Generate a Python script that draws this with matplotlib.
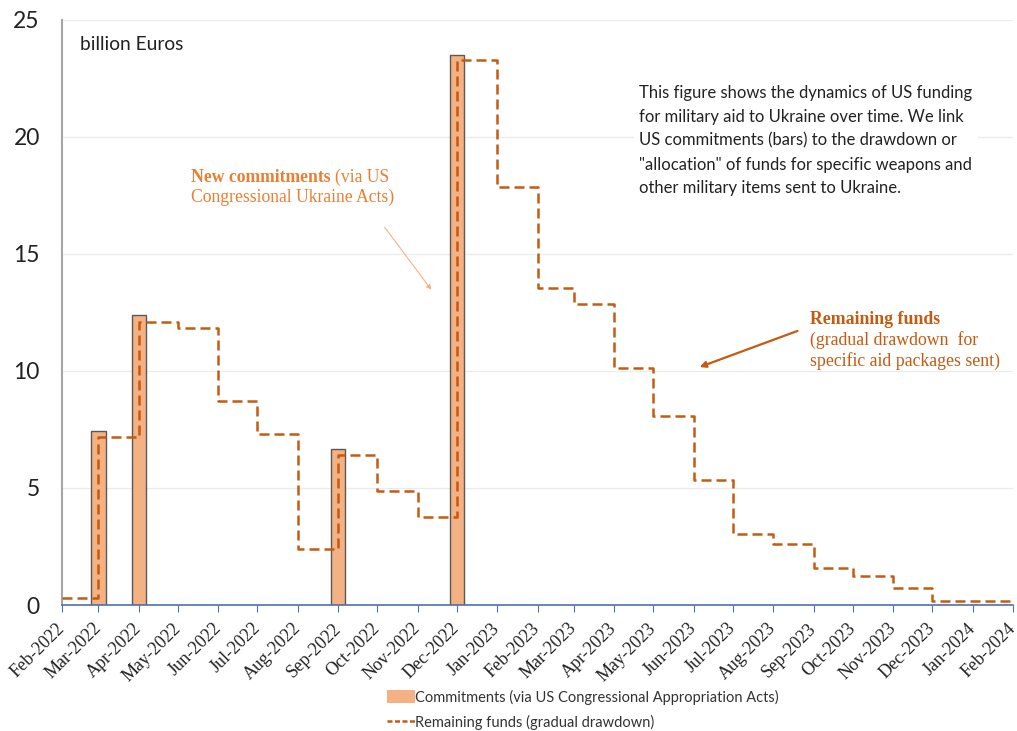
import pandas as pd
import matplotlib
matplotlib.use("Agg")
import matplotlib.pyplot as plt
import matplotlib.dates as mdates
from matplotlib.patches import Patch
from matplotlib.lines import Line2D

# -------------------------------
# Data (billion Euros)
# -------------------------------
months = pd.date_range("2022-02-01", "2024-02-01", freq="MS")
remaining = [0.31, 7.16, 12.08, 11.85, 8.71, 7.30, 2.38, 6.40, 4.87, 3.75,
             23.29, 17.88, 13.54, 12.87, 10.14, 8.08, 5.35, 3.03, 2.60, 1.59,
             1.25, 0.73, 0.16, 0.16, 0.16]
commit_dates = pd.to_datetime(["2022-03-01", "2022-04-01", "2022-09-01", "2022-12-01"])
commitments = [7.43, 12.39, 6.67, 23.52]

bar_color = "#F4B183"
line_color = "#C55A11"
note_color = "#ED7D31"

W, H = 1017, 731


def fp(x, y):
    # figure pixel (from top-left) -> figure fraction
    return (x / W, 1 - y / H)


fig = plt.figure(figsize=(W / 100, H / 100), dpi=100)
ax = fig.add_axes([62 / W, 1 - 605 / H, (1013 - 62) / W, (605 - 20) / H])

# -------------------------------
# Bars and step line
# -------------------------------
ax.bar(commit_dates, commitments, width=11, color=bar_color,
       edgecolor="#595959", linewidth=1, zorder=2)
ax.step(months, remaining, where="post", color=line_color, lw=1.8,
        linestyle=(0, (4, 2)), zorder=3)

ax.set_xlim(months[0], months[-1])
ax.set_ylim(0, 25)
ax.set_yticks([0, 5, 10, 15, 20, 25])
ax.yaxis.grid(True, color="#EBEBEB", lw=0.9, zorder=0)
ax.set_axisbelow(True)

ax.set_xticks(months)
ax.xaxis.set_major_formatter(mdates.DateFormatter("%b-%Y"))
for lab in ax.get_xticklabels():
    lab.set_rotation(45)
    lab.set_ha("right")
    lab.set_va("center")
    lab.set_rotation_mode("anchor")
    lab.set_fontsize(13)
    lab.set_family("Liberation Serif")
    lab.set_color("#222222")
ax.tick_params(axis="x", length=5, color="#4F6FAF", pad=10)
ax.tick_params(axis="y", length=0, labelsize=16.5, labelcolor="#222222", pad=16)
for lab in ax.get_yticklabels():
    lab.set_family("Lato")

for s in ["top", "right"]:
    ax.spines[s].set_visible(False)
ax.spines["left"].set_color("#A6A6A6")
ax.spines["left"].set_linewidth(1.5)
ax.spines["bottom"].set_color("#4F6FAF")
ax.spines["bottom"].set_linewidth(1.2)

# -------------------------------
# Texts and annotations
# -------------------------------
fig.text(*fp(80, 45), "billion Euros", fontsize=13.8, family="Lato",
         color="#222222", va="center")

fig.text(*fp(191, 177), "New commitments", fontsize=12.7, family="Liberation Serif",
         weight="bold", color=note_color, va="center")
fig.text(*fp(335, 177), "(via US", fontsize=12.7, family="Liberation Serif",
         color=note_color, va="center")
fig.text(*fp(191, 197), "Congressional Ukraine Acts)", fontsize=12.7,
         family="Liberation Serif", color=note_color, va="center")
ax.annotate("", xy=fp(433, 292), xytext=fp(383, 225),
            xycoords="figure fraction", textcoords="figure fraction",
            arrowprops=dict(arrowstyle="-|>", color="#F4B183", lw=0.8,
                            mutation_scale=7))

fig.text(*fp(810, 320), "Remaining funds", fontsize=12.8, family="Liberation Serif",
         weight="bold", color=line_color, va="center")
fig.text(*fp(810, 340), "(gradual drawdown  for", fontsize=12.8,
         family="Liberation Serif", color=line_color, va="center")
fig.text(*fp(810, 361), "specific aid packages sent)", fontsize=12.8,
         family="Liberation Serif", color=line_color, va="center")
ax.annotate("", xy=fp(697, 368), xytext=fp(800, 330),
            xycoords="figure fraction", textcoords="figure fraction",
            arrowprops=dict(arrowstyle="-|>", color=line_color, lw=1.6,
                            mutation_scale=9))

note = ("This figure shows the dynamics of US funding\n"
        "for military aid to Ukraine over time. We link\n"
        "US commitments (bars) to the drawdown or\n"
        "\"allocation\" of funds for specific weapons and\n"
        "other military items sent to Ukraine.")
fig.text(*fp(639, 85), note, fontsize=12.0, family="Lato", color="#222222",
         va="top", linespacing=1.6,
         bbox=dict(facecolor="white", edgecolor="none", pad=4))

# -------------------------------
# Legend
# -------------------------------
handles = [Patch(facecolor=bar_color, edgecolor="none"),
           Line2D([0], [0], color=line_color, lw=1.8, linestyle=(0, (2, 1)))]
labels = ["Commitments (via US Congressional Appropriation Acts)",
          "Remaining funds (gradual drawdown)"]
fig.legend(handles, labels, loc="upper left", bbox_to_anchor=fp(381, 684),
           frameon=False, prop={"family": "Lato", "size": 10.5},
           handlelength=1.9, handleheight=1.0, handletextpad=0.05,
           labelspacing=0.7, borderaxespad=0, labelcolor="#333333")

fig.savefig("out.png", dpi=100)
